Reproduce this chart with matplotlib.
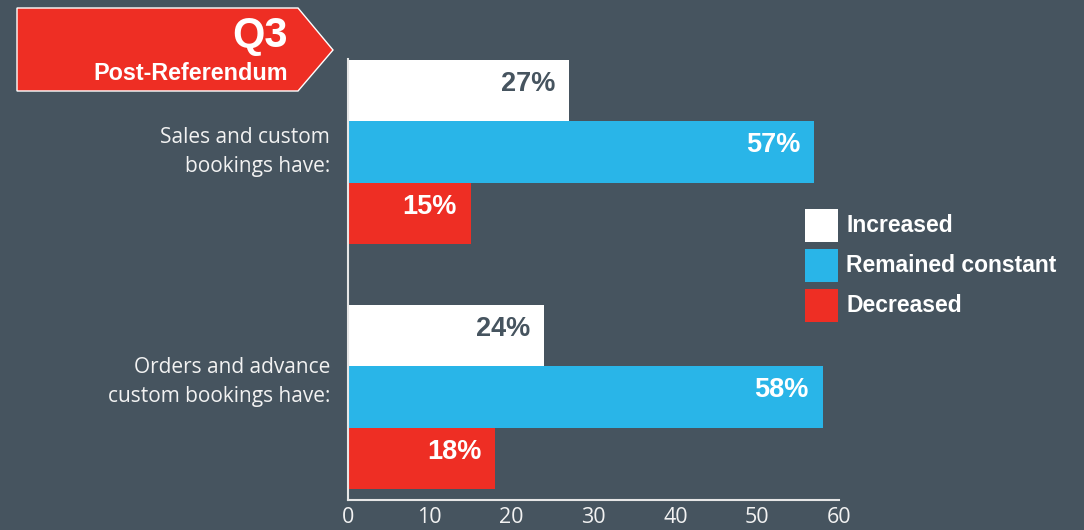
import numpy as np
import matplotlib.pyplot as plt
from matplotlib.patches import Polygon, Rectangle

# data
categories = ['Sales and custom\nbookings have:', 'Orders and advance\ncustom bookings have:']
series_names = ['Increased', 'Remained constant', 'Decreased']
increased = [27, 24]
constant = [57, 58]
decreased = [15, 18]
x_ticks = [0, 10, 20, 30, 40, 50, 60]

BG = '#46545f'
WHITE = '#ffffff'
BLUE = '#29b5e8'
RED = '#ee2e24'
colors = [WHITE, BLUE, RED]
label_colors = [BG, WHITE, WHITE]

W, H = 1084, 530
fig = plt.figure(figsize=(W / 100, H / 100), dpi=100, facecolor=BG)
ax = fig.add_axes([348 / W, 30 / H, (839 - 348) / W, 441 / H])
ax.set_facecolor(BG)

group_pos = np.arange(len(categories))
h = 0.251
values = [increased, constant, decreased]
for i, vals in enumerate(values):
    y = group_pos + (i - 1) * h
    ax.barh(y, vals, height=h, color=colors[i], label=series_names[i])
    for yy, v in zip(y, vals):
        ax.annotate(f'{v}%', xy=(v, yy), xytext=(-14, 7), textcoords='offset pixels',
                    ha='right', va='center', fontsize=19.5, fontweight='bold',
                    family='Liberation Sans', color=label_colors[i])

ax.set_xlim(0, 60)
ax.set_ylim(1.42, -0.38)
ax.set_xticks(x_ticks)
ax.set_xticklabels([str(t) for t in x_ticks], family='Open Sans', fontsize=15.5, color='#f2f2f2')
ax.tick_params(axis='x', length=0, pad=5)

label_y = group_pos - np.array([0.025, 0.09])
ax.set_yticks(label_y)
ax.set_yticklabels(categories, family='Open Sans', fontsize=15, color='#f2f2f2',
                   linespacing=1.5, multialignment='right')
ax.tick_params(axis='y', length=0, pad=13)

for s in ['top', 'right']:
    ax.spines[s].set_visible(False)
for s in ['left', 'bottom']:
    ax.spines[s].set_color('#e6e6e6')
    ax.spines[s].set_linewidth(1.5)

# legend (drawn by hand so the swatch size and row step match)
for i, name in enumerate(series_names):
    top = 209 + 40 * i
    fig.patches.append(Rectangle((805 / W, 1 - (top + 33) / H), 33 / W, 33 / H,
                                 transform=fig.transFigure, facecolor=colors[i], edgecolor='none'))
    fig.text(846 / W, 1 - (top + 16) / H, name, ha='left', va='center', fontsize=16.5,
             fontweight='bold', family='Liberation Sans', color=WHITE)

# banner
pts = [(17, 8), (298, 8), (333, 50), (298, 91), (17, 91)]
banner = Polygon([(x / W, 1 - y / H) for x, y in pts], closed=True, transform=fig.transFigure,
                 facecolor=RED, edgecolor=WHITE, linewidth=1)
fig.patches.append(banner)
fig.text(288 / W, 1 - 36 / H, 'Q3', ha='right', va='center', fontsize=30, fontweight='bold',
         family='Liberation Sans', color=WHITE)
fig.text(288 / W, 1 - 74 / H, 'Post-Referendum', ha='right', va='center', fontsize=16.8,
         fontweight='bold', family='Liberation Sans', color=WHITE)

fig.savefig('out.png', dpi=100, facecolor=BG)
